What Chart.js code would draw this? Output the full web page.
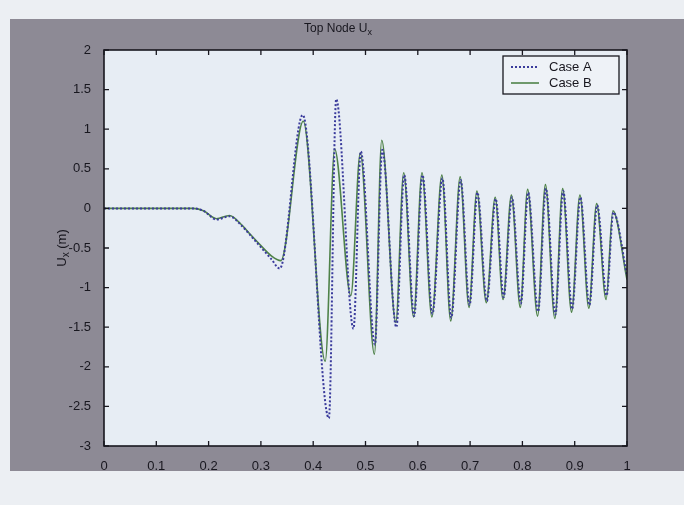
<!DOCTYPE html>
<html>
<head>
<meta charset="utf-8">
<script src="https://cdn.jsdelivr.net/npm/chart.js@4.4.1/dist/chart.umd.min.js"></script>
<style>
  html, body { margin: 0; padding: 0; background: #e8ecf1; }
</style>
</head>
<body>
<canvas id="chart" width="684" height="505"></canvas>
<script>
"use strict";

// values (time in s, displacement in m)
const timeA = [0, 0.17, 0.19, 0.215, 0.24, 0.262, 0.28, 0.30, 0.32, 0.336, 0.38, 0.43, 0.444, 0.477, 0.491, 0.518, 0.532, 0.559, 0.574, 0.593, 0.609, 0.628, 0.647, 0.664, 0.682, 0.699, 0.714, 0.732, 0.749, 0.764, 0.78, 0.797, 0.811, 0.83, 0.845, 0.863, 0.878, 0.895, 0.911, 0.928, 0.943, 0.961, 0.974, 1.0];
const dispA = [0, 0, -0.03, -0.14, -0.1, -0.21, -0.34, -0.49, -0.64, -0.76, 1.18, -2.65, 1.38, -1.52, 0.72, -1.72, 0.74, -1.5, 0.42, -1.36, 0.42, -1.33, 0.38, -1.38, 0.36, -1.22, 0.2, -1.17, 0.12, -1.12, 0.14, -1.2, 0.2, -1.3, 0.25, -1.34, 0.22, -1.27, 0.14, -1.22, 0.04, -1.1, -0.05, -0.85];

const timeB = [0, 0.17, 0.19, 0.215, 0.24, 0.262, 0.28, 0.30, 0.32, 0.338, 0.381, 0.423, 0.441, 0.472, 0.49, 0.517, 0.531, 0.558, 0.573, 0.592, 0.608, 0.627, 0.646, 0.663, 0.681, 0.698, 0.713, 0.731, 0.748, 0.763, 0.779, 0.796, 0.81, 0.829, 0.844, 0.862, 0.877, 0.894, 0.91, 0.927, 0.942, 0.96, 0.973, 1.0];
const dispB = [0, 0, -0.03, -0.13, -0.09, -0.2, -0.33, -0.47, -0.6, -0.66, 1.1, -1.93, 0.75, -1.1, 0.7, -1.84, 0.86, -1.44, 0.45, -1.37, 0.45, -1.37, 0.42, -1.42, 0.4, -1.25, 0.22, -1.19, 0.14, -1.15, 0.17, -1.25, 0.24, -1.36, 0.3, -1.39, 0.25, -1.31, 0.17, -1.26, 0.06, -1.15, -0.03, -0.9];

const xTicks = [0, 0.1, 0.2, 0.3, 0.4, 0.5, 0.6, 0.7, 0.8, 0.9, 1];
const yTicks = [-3, -2.5, -2, -1.5, -1, -0.5, 0, 0.5, 1, 1.5, 2];
const seriesNames = ['Case A', 'Case B'];

const FONT = "'Liberation Sans', Arial, Helvetica, sans-serif";
const INK = '#18171f';

const toPoints = (xs, ys) => xs.map((x, i) => ({ x: x, y: ys[i] }));

// draws text with a lowered small "x" after the main part
const drawSubscripted = (ctx, before, sub, after, x, y, size) => {
    ctx.font = `${size}px ${FONT}`;
    let w1 = ctx.measureText(before).width;
    ctx.font = `${size - 3}px ${FONT}`;
    let w2 = ctx.measureText(sub).width;
    ctx.font = `${size}px ${FONT}`;
    let w3 = ctx.measureText(after).width;
    let start = x - (w1 + w2 + w3) / 2;
    ctx.textAlign = 'left';
    ctx.textBaseline = 'middle';
    ctx.fillText(before, start, y);
    ctx.font = `${size - 3}px ${FONT}`;
    ctx.fillText(sub, start + w1, y + 4);
    ctx.font = `${size}px ${FONT}`;
    ctx.fillText(after, start + w1 + w2, y);
};

const matlabFrame = {
    id: 'matlabFrame',
    beforeDraw(chart) {
        let ctx = chart.ctx;
        let a = chart.chartArea;
        ctx.save();
        // page and grey figure panel
        ctx.fillStyle = '#eceff3';
        ctx.fillRect(0, 0, chart.width, chart.height);
        ctx.fillStyle = '#8d8a95';
        ctx.fillRect(10, 19, chart.width - 10, 452);
        // axes background
        ctx.fillStyle = '#e7edf4';
        ctx.fillRect(a.left, a.top, a.right - a.left, a.bottom - a.top);
        ctx.restore();
    },
    afterDatasetsDraw(chart) {
        let ctx = chart.ctx;
        let a = chart.chartArea;
        let xs = chart.scales.x;
        let ys = chart.scales.y;
        ctx.save();

        // box
        ctx.strokeStyle = INK;
        ctx.lineWidth = 1.6;
        ctx.strokeRect(a.left, a.top, a.right - a.left, a.bottom - a.top);

        // inward ticks on all four sides
        ctx.lineWidth = 1.3;
        ctx.beginPath();
        xTicks.forEach((v) => {
            let px = xs.getPixelForValue(v);
            ctx.moveTo(px, a.bottom); ctx.lineTo(px, a.bottom - 5);
            ctx.moveTo(px, a.top); ctx.lineTo(px, a.top + 5);
        });
        yTicks.forEach((v) => {
            let py = ys.getPixelForValue(v);
            ctx.moveTo(a.left, py); ctx.lineTo(a.left + 5, py);
            ctx.moveTo(a.right, py); ctx.lineTo(a.right - 5, py);
        });
        ctx.stroke();

        // legend box inside the axes, top right
        let lw = 116, lh = 38;
        let lx = a.right - 8 - lw;
        let ly = a.top + 6;
        ctx.fillStyle = '#eef2f7';
        ctx.fillRect(lx, ly, lw, lh);
        ctx.strokeStyle = INK;
        ctx.lineWidth = 1.3;
        ctx.strokeRect(lx, ly, lw, lh);
        chart.data.datasets.forEach((ds, i) => {
            let rowY = ly + 11 + i * 16;
            ctx.strokeStyle = ds.borderColor;
            ctx.lineWidth = ds.borderWidth;
            ctx.setLineDash(ds.borderDash || []);
            ctx.beginPath();
            ctx.moveTo(lx + 8, rowY);
            ctx.lineTo(lx + 36, rowY);
            ctx.stroke();
            ctx.setLineDash([]);
            ctx.fillStyle = INK;
            ctx.font = `13px ${FONT}`;
            ctx.textAlign = 'left';
            ctx.textBaseline = 'middle';
            ctx.fillText(ds.label, lx + 46, rowY);
        });

        // title
        ctx.fillStyle = INK;
        drawSubscripted(ctx, 'Top Node U', 'x', '', 338, 29, 12);

        // y axis label, rotated
        ctx.translate(62, (a.top + a.bottom) / 2);
        ctx.rotate(-Math.PI / 2);
        drawSubscripted(ctx, 'U', 'x', ' (m)', 0, 0, 13);

        ctx.restore();
    }
};

const config = {
    type: 'line',
    data: {
        datasets: [{
            label: seriesNames[0],
            data: toPoints(timeA, dispA),
            borderColor: '#3a3b9c',
            borderWidth: 2,
            borderDash: [2, 2],
            pointRadius: 0,
            fill: false,
            cubicInterpolationMode: 'monotone'
        }, {
            label: seriesNames[1],
            data: toPoints(timeB, dispB),
            borderColor: '#4f8249',
            borderWidth: 1.6,
            pointRadius: 0,
            fill: false,
            cubicInterpolationMode: 'monotone'
        }]
    },
    options: {
        responsive: false,
        animation: false,
        devicePixelRatio: 1,
        layout: {
            padding: { left: 0, right: 57, top: 50, bottom: 0 }
        },
        plugins: {
            legend: { display: false },
            tooltip: { enabled: false }
        },
        scales: {
            x: {
                type: 'linear',
                min: 0,
                max: 1,
                afterBuildTicks: (s) => { s.ticks = xTicks.map((v) => ({ value: v })); },
                afterFit: (s) => { s.height = 59; },
                grid: { display: false },
                border: { display: false },
                ticks: {
                    color: INK,
                    padding: 5,
                    maxRotation: 0,
                    autoSkip: false,
                    font: { family: FONT, size: 13 },
                    callback: (v) => String(v)
                }
            },
            y: {
                type: 'linear',
                min: -3,
                max: 2,
                afterBuildTicks: (s) => { s.ticks = yTicks.map((v) => ({ value: v })); },
                afterFit: (s) => { s.width = 104; },
                grid: { display: false },
                border: { display: false },
                ticks: {
                    color: INK,
                    padding: 5,
                    autoSkip: false,
                    font: { family: FONT, size: 13 },
                    callback: (v) => String(v)
                }
            }
        }
    },
    plugins: [matlabFrame]
};

new Chart(document.getElementById('chart'), config);
</script>
</body>
</html>
